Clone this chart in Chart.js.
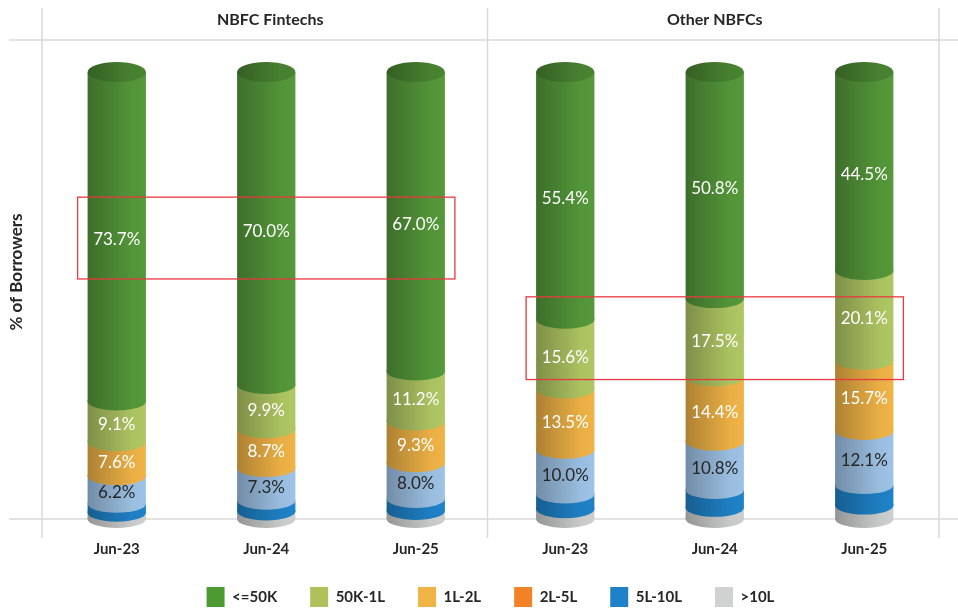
<!DOCTYPE html>
<html>
<head>
<meta charset="utf-8">
<script src="https://cdn.jsdelivr.net/npm/chart.js@4"></script>
<style>
  html, body { margin: 0; padding: 0; background: #fff; }
</style>
</head>
<body>
<canvas id="myChart" width="958" height="608"></canvas>
<script>
// categories: 3 dates per panel
var labels = ['Jun-23', 'Jun-24', 'Jun-25', 'Jun-23', 'Jun-24', 'Jun-25'];
var panels = ['NBFC Fintechs', 'Other NBFCs'];

// share of borrowers (%) by ticket size, bottom of stack first
var above10L = [1.4, 1.7, 1.8, 2.2, 2.5, 3.0];
var l5to10L  = [2.0, 2.4, 2.7, 3.3, 4.0, 4.6];
var l2to5L   = [6.2, 7.3, 8.0, 10.0, 10.8, 12.1];
var l1to2L   = [7.6, 8.7, 9.3, 13.5, 14.4, 15.7];
var k50to1L  = [9.1, 9.9, 11.2, 15.6, 17.5, 20.1];
var upto50K  = [73.7, 70.0, 67.0, 55.4, 50.8, 44.5];

var seriesNames = ['>10L', '5L-10L', '2L-5L', '1L-2L', '50K-1L', '<=50K'];
var seriesData = [above10L, l5to10L, l2to5L, l1to2L, k50to1L, upto50K];

// styling
var barColors    = ['#CDCFCF', '#1F82C8', '#9EC3E6', '#F0B346', '#AFC763', '#55993A'];
var legendColors = ['#D0D2D2', '#1F82C8', '#F38226', '#F0B346', '#AFC15A', '#4E9A32'];
var labelColors  = ['#fff', '#fff', '#262626', '#fff', '#fff', '#fff'];
var BAR_PCT = 0.39;
var RY = 9;
var FONT = 'Lato, "Open Sans", sans-serif';

// red highlight boxes (category range, value range)
var highlights = [
  { from: 0, to: 2, top: 72.0, bottom: 53.7 },
  { from: 3, to: 5, top: 49.7, bottom: 31.2 }
];

function shade(hex, f) {
  var n = parseInt(hex.slice(1), 16);
  var r = Math.round(((n >> 16) & 255) * f);
  var g = Math.round(((n >> 8) & 255) * f);
  var b = Math.round((n & 255) * f);
  return 'rgb(' + r + ',' + g + ',' + b + ')';
}

function sideGradient(ctx, x0, x1, col, dark) {
  var g = ctx.createLinearGradient(x0, 0, x1, 0);
  g.addColorStop(0, shade(col, 0.72 * dark));
  g.addColorStop(0.75, shade(col, 0.97 * dark));
  g.addColorStop(1, shade(col, 1.0 * dark));
  return g;
}

function barWidth(chart) {
  return chart.scales.x.width / labels.length * BAR_PCT;
}

function barFill(c, col) {
  var chart = c.chart;
  var xs = chart.scales && chart.scales.x;
  if (!chart.chartArea || !xs || c.dataIndex == null) return col;
  var cx = xs.getPixelForValue(c.dataIndex);
  var w = barWidth(chart);
  return sideGradient(chart.ctx, cx - w / 2, cx + w / 2, col, 1);
}

var cylinderPlugin = {
  id: 'cylinders',
  beforeDatasetsDraw: function(chart) {
    var ctx = chart.ctx, ca = chart.chartArea, xs = chart.scales.x;
    var midX = (xs.getPixelForValue(2) + xs.getPixelForValue(3)) / 2 - 3;
    ctx.save();
    ctx.strokeStyle = '#D9D9D9';
    ctx.lineWidth = 1.5;
    ctx.beginPath();
    [ca.left, midX, ca.right].forEach(function(x) {
      ctx.moveTo(x, 8); ctx.lineTo(x, ca.bottom + 19);
    });
    ctx.moveTo(9, 40); ctx.lineTo(958, 40);
    ctx.moveTo(9, ca.bottom); ctx.lineTo(958, ca.bottom);
    ctx.stroke();

    // panel titles
    ctx.fillStyle = '#262626';
    ctx.font = 'bold 16px ' + FONT;
    ctx.textAlign = 'center';
    ctx.textBaseline = 'middle';
    ctx.fillText(panels[0], xs.getPixelForValue(1) + 4, 20);
    ctx.fillText(panels[1], xs.getPixelForValue(4), 20);

    // y title
    ctx.font = 'bold 17px ' + FONT;
    ctx.translate(17, 272);
    ctx.rotate(-Math.PI / 2);
    ctx.fillText('% of Borrowers', 0, 0);
    ctx.restore();
  },
  afterDatasetsDraw: function(chart) {
    var ctx = chart.ctx, xs = chart.scales.x, ys = chart.scales.y;
    var n = chart.data.datasets.length;
    ctx.save();
    labels.forEach(function(lab, i) {
      var top = null, cx = 0, w = 0;
      for (var d = 0; d < n; d++) {
        var el = chart.getDatasetMeta(d).data[i];
        cx = el.x; w = el.width;
        // rounded bottom of this segment, overlapping the one below
        ctx.beginPath();
        ctx.moveTo(cx - w / 2, el.base - 1.5);
        ctx.lineTo(cx - w / 2, el.base);
        ctx.ellipse(cx, el.base, w / 2, RY, 0, Math.PI, 0, true);
        ctx.lineTo(cx + w / 2, el.base - 1.5);
        ctx.closePath();
        ctx.fillStyle = sideGradient(ctx, cx - w / 2, cx + w / 2, barColors[d], 1);
        ctx.fill();
        top = el.y;
      }
      // top cap
      ctx.beginPath();
      ctx.ellipse(cx, top, w / 2, RY + 1, 0, 0, Math.PI * 2);
      ctx.fillStyle = sideGradient(ctx, cx - w / 2, cx + w / 2, barColors[n - 1], 0.86);
      ctx.fill();

      // value labels
      ctx.font = '17px ' + FONT;
      ctx.textAlign = 'center';
      ctx.textBaseline = 'middle';
      for (var k = 0; k < n; k++) {
        var v = seriesData[k][i];
        if (v < 5) continue;
        var e = chart.getDatasetMeta(k).data[i];
        ctx.fillStyle = labelColors[k];
        ctx.fillText(v.toFixed(1) + '%', e.x, (e.y + e.base) / 2 + 3);
      }
    });

    // highlight boxes
    ctx.strokeStyle = '#E8393E';
    ctx.lineWidth = 1.3;
    highlights.forEach(function(h) {
      var hw = barWidth(chart) / 2 + 10;
      var x0 = xs.getPixelForValue(h.from) - hw;
      var x1 = xs.getPixelForValue(h.to) + hw;
      var y0 = ys.getPixelForValue(h.top);
      var y1 = ys.getPixelForValue(h.bottom);
      ctx.strokeRect(x0, y0, x1 - x0, y1 - y0);
    });
    ctx.restore();
  }
};

var datasets = seriesNames.map(function(name, d) {
  return {
    label: name,
    data: seriesData[d],
    backgroundColor: function(c) { return barFill(c, barColors[d]); },
    borderWidth: 0,
    barPercentage: BAR_PCT,
    categoryPercentage: 1
  };
});

var chart = new Chart(document.getElementById('myChart').getContext('2d'), {
  type: 'bar',
  data: { labels: labels, datasets: datasets },
  plugins: [cylinderPlugin],
  options: {
    responsive: false,
    animation: false,
    layout: { padding: { top: 72, left: 42, right: 19, bottom: -9 } },
    scales: {
      x: {
        stacked: true,
        grid: { display: false },
        border: { display: false },
        ticks: { color: '#262626', padding: 13, font: { family: FONT, size: 15, weight: 'bold' } },
        afterFit: function(s) { s.height = 35; }
      },
      y: { stacked: true, min: 0, max: 100, display: false }
    },
    plugins: {
      tooltip: { enabled: false },
      legend: {
        position: 'bottom',
        reverse: true,
        labels: {
          boxWidth: 18,
          boxHeight: 20,
          padding: 33,
          color: '#262626',
          font: { family: FONT, size: 15, weight: 'bold' },
          generateLabels: function(ch) {
            return ch.data.datasets.map(function(ds, d) {
              return {
                text: ds.label,
                fillStyle: legendColors[d],
                strokeStyle: legendColors[d],
                lineWidth: 0,
                fontColor: '#262626',
                datasetIndex: d
              };
            });
          }
        }
      }
    }
  }
});
</script>
</body>
</html>
